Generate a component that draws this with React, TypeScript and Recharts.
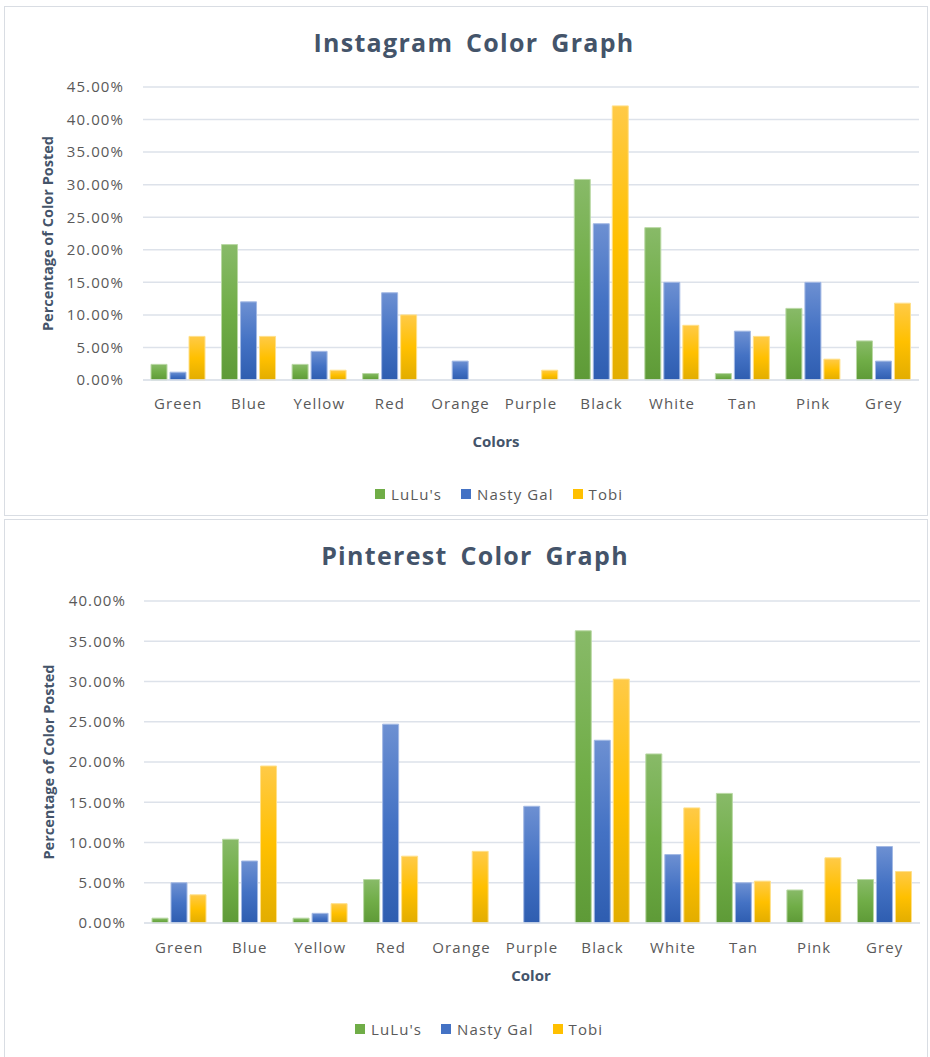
import { BarChart, Bar, XAxis, YAxis, CartesianGrid, Legend } from "recharts";

// Share of posts by garment colour, per store
const CATEGORIES = ["Green", "Blue", "Yellow", "Red", "Orange", "Purple", "Black", "White", "Tan", "Pink", "Grey"];

const IG_LULUS = [2.4, 20.8, 2.4, 1.0, 0, 0, 30.8, 23.4, 1.0, 11.0, 6.0];
const IG_NASTY_GAL = [1.2, 12.0, 4.4, 13.4, 2.9, 0, 24.0, 15.0, 7.5, 15.0, 2.9];
const IG_TOBI = [6.7, 6.7, 1.5, 10.0, 0, 1.5, 42.1, 8.4, 6.7, 3.2, 11.8];

const PIN_LULUS = [0.6, 10.4, 0.6, 5.4, 0, 0, 36.3, 21.0, 16.1, 4.1, 5.4];
const PIN_NASTY_GAL = [5.0, 7.7, 1.2, 24.7, 0, 14.5, 22.7, 8.5, 5.0, 0, 9.5];
const PIN_TOBI = [3.5, 19.5, 2.4, 8.3, 8.9, 0, 30.3, 14.3, 5.2, 8.1, 6.4];

const IG_TICKS = [0, 5, 10, 15, 20, 25, 30, 35, 40, 45];
const PIN_TICKS = [0, 5, 10, 15, 20, 25, 30, 35, 40];

const FONT = '"Open Sans", "Noto Sans", sans-serif';
const TEXT_GREY = "#595959";
const TITLE_INK = "#44546a";
const GRID = "#dde2ea";
const FRAME = "#d9dde3";

const SERIES = [
  { key: "lulus", name: "LuLu's", top: "#88ba68", mid: "#70ad47", bottom: "#5e9a37", edge: "#b9d8a4" },
  { key: "nastyGal", name: "Nasty Gal", top: "#6d90d2", mid: "#4472c4", bottom: "#2e5db0", edge: "#a3b9e4" },
  { key: "tobi", name: "Tobi", top: "#ffca47", mid: "#ffc000", bottom: "#e2ad00", edge: "#ffe08a" },
];

type Row = { name: string; lulus: number; nastyGal: number; tobi: number };

function buildRows(lulus: number[], nastyGal: number[], tobi: number[]): Row[] {
  return CATEGORIES.map((name, i) => ({ name, lulus: lulus[i], nastyGal: nastyGal[i], tobi: tobi[i] }));
}

const tickStyle = { fill: TEXT_GREY, fontSize: 15, fontFamily: FONT, letterSpacing: 1.1 };

function LegendRow({ payload }: any) {
  return (
    <div
      style={{
        display: "flex",
        alignItems: "center",
        fontFamily: FONT,
        fontSize: 15,
        letterSpacing: 1.1,
        lineHeight: "20px",
        color: TEXT_GREY,
        whiteSpace: "nowrap",
      }}
    >
      {(payload || []).map((entry: any, i: number) => {
        const s = SERIES.find((x) => x.key === entry.dataKey) || SERIES[i];
        return (
          <span key={s.key} style={{ display: "flex", alignItems: "center", marginLeft: i ? 19 : 0 }}>
            <span style={{ width: 10, height: 10, background: s.mid, marginRight: 6 }} />
            {entry.value}
          </span>
        );
      })}
    </div>
  );
}

type PanelProps = {
  id: string;
  rows: Row[];
  ticks: number[];
  height: number;
  plotTop: number;
  xAxisHeight: number;
  yAxisWidth: number;
  rightGap: number;
  xTickGap: number;
  yTickGap: number;
  legendTop: number;
  legendLeft: number;
};

function ColorBars(p: PanelProps) {
  const max = p.ticks[p.ticks.length - 1];
  return (
    <BarChart
      width={930}
      height={p.height}
      data={p.rows}
      margin={{ top: p.plotTop, right: p.rightGap, bottom: 0, left: 0 }}
      barCategoryGap={8}
      barGap={3}
    >
      <defs>
        {SERIES.map((s) => (
          <linearGradient key={s.key} id={`${p.id}-${s.key}`} x1="0" y1="0" x2="0" y2="1">
            <stop offset="0%" stopColor={s.top} />
            <stop offset="50%" stopColor={s.mid} />
            <stop offset="100%" stopColor={s.bottom} />
          </linearGradient>
        ))}
      </defs>
      <CartesianGrid vertical={false} stroke={GRID} strokeWidth={1.5} />
      <XAxis
        dataKey="name"
        height={p.xAxisHeight}
        interval={0}
        tickLine={false}
        tickSize={0}
        tickMargin={p.xTickGap}
        axisLine={{ stroke: GRID, strokeWidth: 1.5 }}
        tick={tickStyle}
      />
      <YAxis
        width={p.yAxisWidth}
        domain={[0, max]}
        ticks={p.ticks}
        interval={0}
        tickFormatter={(v: number) => `${v.toFixed(2)}%`}
        axisLine={false}
        tickLine={false}
        tickSize={0}
        tickMargin={p.yTickGap}
        tick={tickStyle}
      />
      <Legend
        verticalAlign="middle"
        align="center"
        wrapperStyle={{ top: p.legendTop, left: p.legendLeft, width: "auto" }}
        content={(props: any) => <LegendRow payload={props.payload} />}
      />
      {SERIES.map((s) => (
        <Bar
          key={s.key}
          dataKey={s.key}
          name={s.name}
          fill={`url(#${p.id}-${s.key})`}
          stroke={s.edge}
          strokeWidth={1}
          isAnimationActive={false}
        />
      ))}
    </BarChart>
  );
}

export default function App() {
  const igRows = buildRows(IG_LULUS, IG_NASTY_GAL, IG_TOBI);
  const pinRows = buildRows(PIN_LULUS, PIN_NASTY_GAL, PIN_TOBI);

  return (
    <div
      style={{
        position: "absolute",
        left: 0,
        top: 0,
        width: 930,
        height: 1057,
        overflow: "hidden",
        background: "#ffffff",
        fontFamily: FONT,
      }}
    >
      <div style={{ position: "absolute", left: 4, top: 6, width: 924, height: 510, boxSizing: "border-box", border: `1px solid ${FRAME}` }} />
      <div style={{ position: "absolute", left: 4, top: 519, width: 924, height: 560, boxSizing: "border-box", border: `1px solid ${FRAME}` }} />

      <div style={{ position: "absolute", left: 0, top: 0 }}>
        <ColorBars
          id="ig"
          rows={igRows}
          ticks={IG_TICKS}
          height={516}
          plotTop={87}
          xAxisHeight={136}
          yAxisWidth={143}
          rightGap={11}
          xTickGap={18}
          yTickGap={19}
          legendTop={484}
          legendLeft={375}
        />
      </div>

      <div style={{ position: "absolute", left: 0, top: 519 }}>
        <ColorBars
          id="pin"
          rows={pinRows}
          ticks={PIN_TICKS}
          height={538}
          plotTop={82}
          xAxisHeight={134}
          yAxisWidth={144}
          rightGap={10}
          xTickGap={19}
          yTickGap={18}
          legendTop={500}
          legendLeft={355}
        />
      </div>

      {/* chart titles and axis titles */}
      <svg width={930} height={1057} style={{ position: "absolute", left: 0, top: 0, pointerEvents: "none" }}>
        <g fontFamily={FONT} fontWeight={700} fill={TITLE_INK}>
          <text x={474} y={52} textAnchor="middle" fontSize={25} letterSpacing={1.3} wordSpacing={5}>
            Instagram Color Graph
          </text>
          <text x={475} y={565} textAnchor="middle" fontSize={25} letterSpacing={1.3} wordSpacing={5}>
            Pinterest Color Graph
          </text>
          <text x={47} y={233.5} textAnchor="middle" dominantBaseline="central" fontSize={14.5} transform="rotate(-90 47 233.5)">
            Percentage of Color Posted
          </text>
          <text x={48} y={762} textAnchor="middle" dominantBaseline="central" fontSize={14.5} transform="rotate(-90 48 762)">
            Percentage of Color Posted
          </text>
          <text x={496} y={447} textAnchor="middle" fontSize={15}>
            Colors
          </text>
          <text x={531} y={981} textAnchor="middle" fontSize={15}>
            Color
          </text>
        </g>
      </svg>
    </div>
  );
}
